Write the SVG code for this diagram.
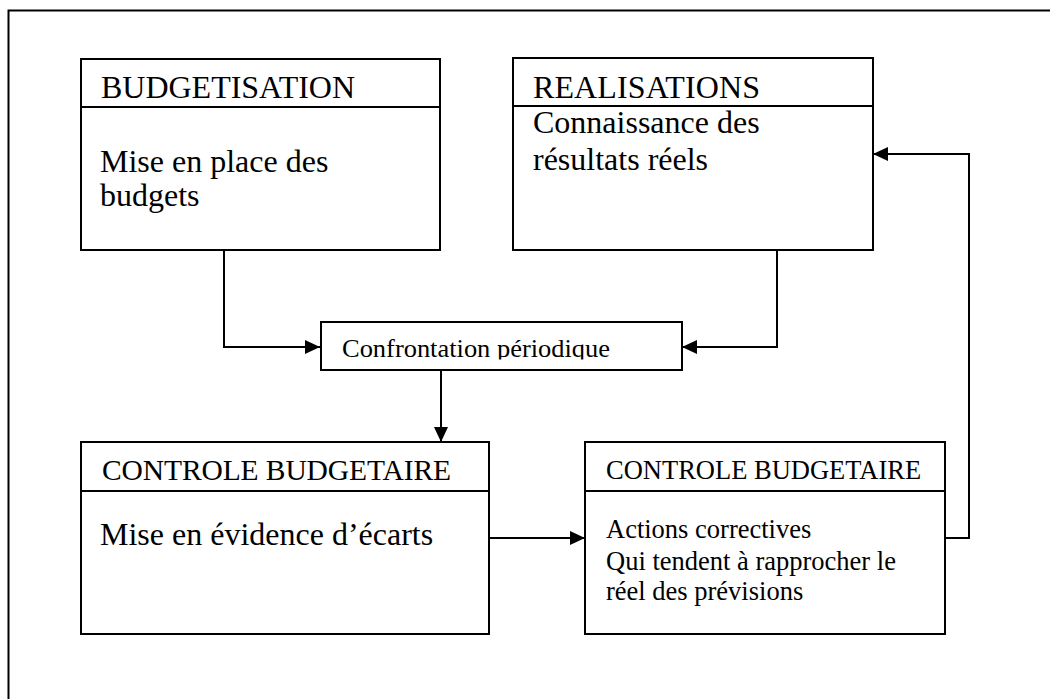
<svg xmlns="http://www.w3.org/2000/svg" width="1050" height="699" viewBox="0 0 1050 699">
  <style>
    .box { fill: #fff; stroke: #000; stroke-width: 2; }
    .rule { stroke: #000; stroke-width: 2; fill: none; }
    .wire { stroke: #000; stroke-width: 2; fill: none; }
    text { font-family: "Liberation Serif", "Times New Roman", serif; fill: #000; }
  </style>
  <defs>
    <marker id="arrow" markerWidth="15" markerHeight="14" refX="15" refY="7" orient="auto" markerUnits="userSpaceOnUse">
      <path d="M0,0 L15,7 L0,14 Z" fill="#000"/>
    </marker>
    <clipPath id="confClip">
      <rect x="322" y="323" width="358" height="36.5"/>
    </clipPath>
  </defs>

  <rect width="1050" height="699" fill="#fff"/>

  <!-- outer frame (open on the right and bottom) -->
  <path class="rule" d="M8.5,699 V10.5 H1050"/>

  <g id="budgetisation">
    <rect class="box" x="81" y="59" width="359" height="191"/>
    <line class="rule" x1="81" y1="107" x2="440" y2="107"/>
    <text x="101" y="98" font-size="32" textLength="254">BUDGETISATION</text>
    <text x="100" y="172" font-size="32">Mise en place des</text>
    <text x="100" y="206" font-size="32">budgets</text>
  </g>

  <g id="realisations">
    <rect class="box" x="513" y="58" width="360" height="192"/>
    <line class="rule" x1="513" y1="106" x2="873" y2="106"/>
    <text x="533" y="98" font-size="32" textLength="227">REALISATIONS</text>
    <text x="533" y="133" font-size="32">Connaissance des</text>
    <text x="533" y="170" font-size="32">résultats réels</text>
  </g>

  <g id="confrontation">
    <rect class="box" x="321" y="322" width="361" height="48"/>
    <text x="342" y="357" font-size="25" textLength="268" lengthAdjust="spacingAndGlyphs" clip-path="url(#confClip)">Confrontation périodique</text>
  </g>

  <g id="controle-ecarts">
    <rect class="box" x="81" y="442" width="408" height="192"/>
    <line class="rule" x1="81" y1="491" x2="489" y2="491"/>
    <text x="102" y="480" font-size="29.5" textLength="349">CONTROLE BUDGETAIRE</text>
    <text x="100" y="545" font-size="32">Mise en évidence d’écarts</text>
  </g>

  <g id="controle-actions">
    <rect class="box" x="585" y="442" width="360" height="192"/>
    <line class="rule" x1="585" y1="491" x2="945" y2="491"/>
    <text x="606" y="479" font-size="26.5">CONTROLE BUDGETAIRE</text>
    <text x="606" y="538" font-size="26.5">Actions correctives</text>
    <text x="606" y="570" font-size="26.5">Qui tendent à rapprocher le</text>
    <text x="606" y="600" font-size="26.5">réel des prévisions</text>
  </g>

  <g id="connectors">
    <path class="wire" d="M224,250 V347 H320" marker-end="url(#arrow)"/>
    <path class="wire" d="M777,250 V347 H682" marker-end="url(#arrow)"/>
    <path class="wire" d="M441,370 V442" marker-end="url(#arrow)"/>
    <path class="wire" d="M489,538 H585" marker-end="url(#arrow)"/>
    <path class="wire" d="M945,538 H969 V154 H873" marker-end="url(#arrow)"/>
  </g>
</svg>
